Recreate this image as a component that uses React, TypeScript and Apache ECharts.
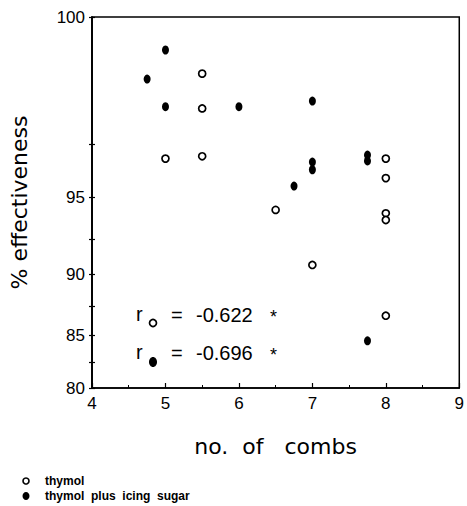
import React, { useEffect, useRef } from "react";
import * as echarts from "echarts";

// % effectiveness values, x = no. of combs
const thymolX = [5, 5.5, 5.5, 5.5, 6.5, 7, 8, 8, 8, 8, 8];
const thymolY = [96.9, 99.5, 98.7, 97.0, 94.3, 90.7, 96.9, 96.0, 94.1, 93.7, 86.7];
const sugarX = [4.75, 5, 5, 6, 7, 6.75, 7, 7, 7.75, 7.75, 7.75];
const sugarY = [99.4, 99.83, 98.75, 98.75, 98.9, 95.6, 96.75, 96.4, 97.05, 96.8, 84.5];

const yMajorTicks = [80, 85, 90, 95, 100];
const yMinorTicks = [82.5, 87.5, 92.5, 97.5];
const xMin = 4;
const xMax = 9;

const seriesNames = ["thymol", "thymol plus icing sugar"];
const corrLabels = ["-0.622", "-0.696"];

// arcsine square-root transform used by the y axis
const T = (p: number) => (Math.asin(Math.sqrt(p / 100)) * 180) / Math.PI;
const invT = (v: number) => Math.pow(Math.sin((v * Math.PI) / 180), 2) * 100;

const LABEL_FONT = "'Liberation Sans', Arial, sans-serif";
const TITLE_FONT = "'DejaVu Sans', sans-serif";

export default function App() {
  const ref = useRef<HTMLDivElement>(null);
  useEffect(() => {
    if (!ref.current) return;
    const chart = echarts.init(ref.current, undefined, { renderer: "svg" });
    const allTicks = [...yMajorTicks, ...yMinorTicks].sort((a, b) => a - b).map(T);
    const yBase = {
      type: "value" as const,
      min: T(80),
      max: T(100),
      position: "left" as const,
      splitLine: { show: false },
      axisLine: { show: true, lineStyle: { color: "#000", width: 1.5 } },
    };
    const annText = (x: number, y: number, text: string, size = 20) => ({
      type: "text",
      x,
      y,
      style: {
        text,
        fill: "#000",
        font: `${size}px ${LABEL_FONT}`,
        verticalAlign: "middle",
        align: "left",
      },
    });
    chart.setOption({
      animation: false,
      backgroundColor: "#fff",
      grid: {
        left: 90,
        top: 17,
        width: 372,
        height: 371,
        show: true,
        borderColor: "#000",
        borderWidth: 1.5,
        backgroundColor: "transparent",
      },
      xAxis: {
        type: "value",
        min: xMin,
        max: xMax,
        interval: 1,
        splitLine: { show: false },
        axisLine: { show: true, lineStyle: { color: "#000", width: 1.5 } },
        axisTick: { show: true, inside: true, length: 5, lineStyle: { color: "#000", width: 1.2 } },
        minorTick: { show: true, splitNumber: 2, length: 3, lineStyle: { color: "#000", width: 1 } },
        axisLabel: { color: "#000", fontSize: 17, fontFamily: LABEL_FONT, margin: 7 },
        name: "no.  of   combs",
        nameLocation: "middle",
        nameGap: 47,
        nameTextStyle: { color: "#000", fontSize: 22, fontFamily: TITLE_FONT },
      },
      yAxis: [
        {
          ...yBase,
          axisTick: {
            show: true,
            inside: false,
            length: 3,
            customValues: allTicks,
            lineStyle: { color: "#000", width: 1.2 },
          },
          axisLabel: {
            show: true,
            customValues: yMajorTicks.map(T),
            formatter: (v: number) => String(Math.round(invT(v))),
            color: "#000",
            fontSize: 17,
            fontFamily: LABEL_FONT,
            margin: 7,
          },
          name: "% effectiveness",
          nameLocation: "middle",
          nameRotate: 90,
          nameGap: 62,
          nameTextStyle: { color: "#000", fontSize: 22, fontFamily: TITLE_FONT },
        },
        {
          ...yBase,
          axisTick: {
            show: true,
            inside: true,
            length: 3,
            customValues: allTicks,
            lineStyle: { color: "#000", width: 1.2 },
          },
          axisLabel: { show: false },
        },
      ],
      series: [
        {
          name: seriesNames[0],
          type: "scatter",
          yAxisIndex: 0,
          symbol: "circle",
          symbolSize: 7,
          itemStyle: { color: "#fff", borderColor: "#000", borderWidth: 1.7, opacity: 1 },
          data: thymolX.map((x, i) => [x, T(thymolY[i])]),
        },
        {
          name: seriesNames[1],
          type: "scatter",
          yAxisIndex: 0,
          symbol: "circle",
          symbolSize: [7, 9],
          itemStyle: { color: "#000", opacity: 1 },
          data: sugarX.map((x, i) => [x, T(sugarY[i])]),
        },
      ],
      graphic: [
        // correlation annotations
        annText(136, 314, "r"),
        { type: "circle", shape: { cx: 153, cy: 323, r: 3.5 }, style: { fill: "#fff", stroke: "#000", lineWidth: 1.7 } },
        annText(171, 315, "="),
        annText(196, 315, corrLabels[0]),
        annText(270, 317, "*", 18),
        annText(136, 352, "r"),
        { type: "ellipse", shape: { cx: 153, cy: 362, rx: 4, ry: 5 }, style: { fill: "#000" } },
        annText(171, 353, "="),
        annText(196, 353, corrLabels[1]),
        annText(270, 355, "*", 18),
        // key at the bottom
        { type: "circle", shape: { cx: 26, cy: 481, r: 3 }, style: { fill: "#fff", stroke: "#000", lineWidth: 1.6 } },
        { type: "ellipse", shape: { cx: 26, cy: 496, rx: 3.5, ry: 4 }, style: { fill: "#000" } },
        {
          type: "text",
          x: 45,
          y: 481,
          style: { text: seriesNames[0], fill: "#000", font: `bold 12px ${LABEL_FONT}`, verticalAlign: "middle" },
        },
        {
          type: "text",
          x: 45,
          y: 496,
          style: {
            text: seriesNames[1].split(" ").join("  "),
            fill: "#000",
            font: `bold 12px ${LABEL_FONT}`,
            verticalAlign: "middle",
          },
        },
      ],
    });
    return () => chart.dispose();
  }, []);
  return <div ref={ref} style={{ position: "fixed", left: 0, top: 0, width: 467, height: 506 }} />;
}
